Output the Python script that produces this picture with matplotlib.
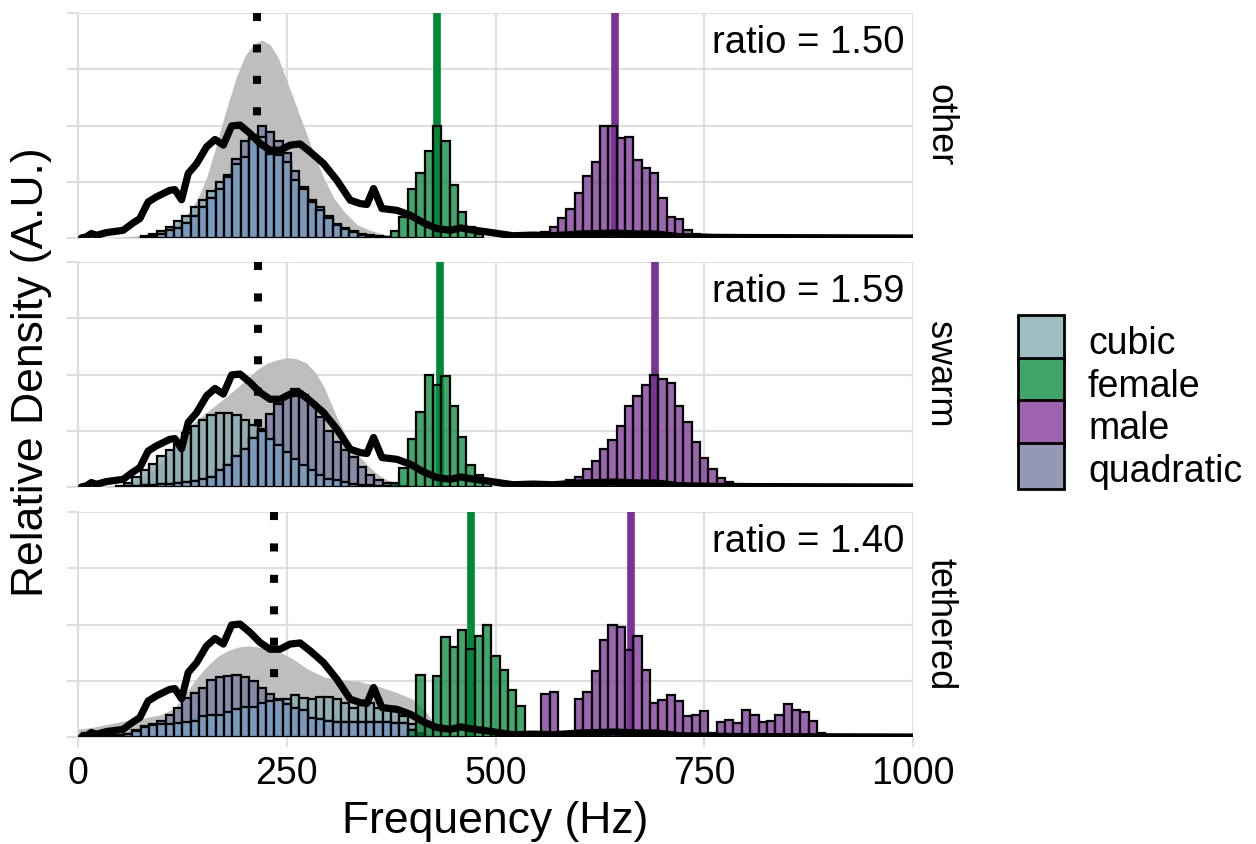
import numpy as np
import matplotlib.pyplot as plt
from matplotlib.patches import Patch, Rectangle
from matplotlib.legend_handler import HandlerPatch

plt.rcParams['font.family'] = ['Liberation Sans', 'DejaVu Sans']

# facets
facets = ['other', 'swarm', 'tethered']
ratio_labels = ['ratio = 1.50', 'ratio = 1.59', 'ratio = 1.40']
ref_line = [214, 216, 235]        # dotted line (Hz)
female_line = [430, 433, 471]
male_line = [643, 691, 662]

# histograms: first bin centre + relative heights (10 Hz bins)
cubic_other_start = 80
cubic_other = [0.007, 0.016, 0.03, 0.05, 0.074, 0.096, 0.137, 0.17, 0.21, 0.247,
               0.27, 0.33, 0.36, 0.44, 0.45, 0.375, 0.37, 0.34, 0.26, 0.22,
               0.17, 0.137, 0.096, 0.063, 0.046, 0.03, 0.02, 0.012, 0.008, 0.005]
quad_other_start = 80
quad_other = [0.004, 0.01, 0.018, 0.035, 0.045, 0.065, 0.10, 0.14, 0.18, 0.22,
              0.28, 0.35, 0.43, 0.46, 0.50, 0.47, 0.43, 0.38, 0.30, 0.225,
              0.16, 0.125, 0.088, 0.06, 0.04, 0.025, 0.015, 0.01, 0.005, 0.003]
female_other_start = 380
female_other = [0.033, 0.093, 0.216, 0.29, 0.387, 0.5, 0.43, 0.237, 0.115, 0.048, 0.018]
male_other_start = 560
male_other = [0.028, 0.05, 0.088, 0.127, 0.2, 0.275, 0.34, 0.5, 0.5, 0.443,
              0.45, 0.346, 0.312, 0.287, 0.178, 0.095, 0.085, 0.036, 0.02, 0.013]

cubic_swarm_start = 50
cubic_swarm = [0.005, 0.02, 0.045, 0.075, 0.104, 0.137, 0.166, 0.19, 0.24, 0.27,
               0.30, 0.32, 0.33, 0.33, 0.32, 0.30, 0.275, 0.25, 0.215, 0.186,
               0.156, 0.126, 0.097, 0.074, 0.052, 0.037, 0.03, 0.022, 0.015, 0.01,
               0.008, 0.005, 0.004, 0.003]
quad_swarm_start = 60
quad_swarm = [0.003, 0.005, 0.008, 0.01, 0.012, 0.015, 0.018, 0.022, 0.028, 0.035,
              0.045, 0.075, 0.10, 0.14, 0.17, 0.22, 0.26, 0.325, 0.37, 0.40,
              0.434, 0.41, 0.375, 0.31, 0.25, 0.2, 0.165, 0.135, 0.09, 0.052,
              0.033, 0.02, 0.012, 0.006]
female_swarm_start = 380
female_swarm = [0.018, 0.084, 0.215, 0.335, 0.5, 0.453, 0.493, 0.361, 0.221, 0.1, 0.055, 0.025]
male_swarm_start = 570
male_swarm = [0.01, 0.02, 0.032, 0.043, 0.08, 0.114, 0.17, 0.21, 0.27, 0.361,
              0.406, 0.453, 0.5, 0.482, 0.463, 0.361, 0.29, 0.198, 0.131, 0.081,
              0.04, 0.022, 0.013, 0.008, 0.005]

cubic_tethered_start = 10
cubic_tethered = [0.01, 0.005, 0.005, 0.005, 0.008, 0.012, 0.025, 0.045, 0.052, 0.058,
                  0.06, 0.063, 0.066, 0.07, 0.093, 0.097, 0.1, 0.109, 0.126, 0.132,
                  0.135, 0.15, 0.16, 0.17, 0.17, 0.188, 0.174, 0.17, 0.178, 0.176,
                  0.17, 0.15, 0.13, 0.144, 0.15, 0.13, 0.118, 0.115, 0.093, 0.056, 0.02]
quad_tethered_start = 10
quad_tethered = [0.016, 0.008, 0.008, 0.008, 0.01, 0.015, 0.03, 0.05, 0.056, 0.07,
                 0.097, 0.13, 0.174, 0.196, 0.22, 0.254, 0.265, 0.27, 0.276, 0.265,
                 0.247, 0.22, 0.19, 0.165, 0.147, 0.13, 0.12, 0.085, 0.078, 0.07,
                 0.068, 0.066, 0.067, 0.065, 0.066, 0.067, 0.066, 0.064, 0.063, 0.03, 0.01]
female_tethered_start = 400
female_tethered = [0.03, 0.277, 0.06, 0.27, 0.444, 0.4, 0.476, 0.392, 0.45, 0.5,
                   0.36, 0.3, 0.207, 0.138, 0.02]
male_tethered_start = 560
male_tethered = [0.19, 0.2, 0.0, 0.01, 0.17, 0.2, 0.293, 0.432, 0.5, 0.49,
                 0.388, 0.447, 0.296, 0.15, 0.166, 0.188, 0.16, 0.092, 0.1, 0.114,
                 0.018, 0.067, 0.074, 0.062, 0.121, 0.096, 0.067, 0.071, 0.096, 0.148,
                 0.118, 0.111, 0.071, 0.018]

# grey density area per facet
gray_other_x = [40, 60, 80, 100, 120, 134, 144, 154, 164, 172, 180, 190, 200, 210, 220,
                230, 240, 250, 260, 270, 282, 294, 306, 318, 334, 350, 370, 390, 410]
gray_other_y = [0, 0.005, 0.015, 0.03, 0.07, 0.12, 0.18, 0.27, 0.39, 0.5, 0.6, 0.72, 0.81,
                0.86, 0.88, 0.86, 0.8, 0.7, 0.6, 0.5, 0.38, 0.27, 0.18, 0.12, 0.06, 0.034,
                0.012, 0.004, 0]
gray_swarm_x = [30, 50, 70, 90, 110, 122, 140, 160, 174, 190, 202, 214, 226, 238, 250,
                262, 274, 284, 294, 302, 310, 318, 326, 336, 346, 356, 366, 382, 400]
gray_swarm_y = [0, 0.01, 0.03, 0.075, 0.15, 0.23, 0.29, 0.35, 0.39, 0.44, 0.48, 0.52,
                0.55, 0.565, 0.575, 0.57, 0.55, 0.51, 0.45, 0.38, 0.31, 0.25, 0.19,
                0.14, 0.1, 0.065, 0.04, 0.012, 0]
gray_tethered_x = [0, 20, 40, 60, 80, 100, 116, 130, 144, 156, 168, 180, 192, 204, 216,
                   228, 240, 256, 276, 296, 316, 336, 356, 380, 400, 416, 428, 440, 455, 470]
gray_tethered_y = [0.034, 0.045, 0.06, 0.075, 0.085, 0.1, 0.13, 0.2, 0.27, 0.32, 0.36,
                   0.385, 0.4, 0.405, 0.4, 0.39, 0.38, 0.35, 0.3, 0.265, 0.255, 0.247,
                   0.23, 0.2, 0.17, 0.115, 0.056, 0.025, 0.008, 0]

# black density line (same in every facet)
black_x = [4, 10, 16, 22, 34, 54, 66, 74, 84, 94, 110, 116, 124, 132, 142, 154, 164,
           174, 184, 194, 206, 218, 230, 242, 254, 266, 278, 294, 310, 326, 338, 346,
           354, 364, 382, 398, 414, 430, 446, 458, 470, 490, 521, 545, 569, 601, 641,
           672, 692, 720, 760, 800, 900, 1000]
black_y = [0, 0.005, 0.02, 0.012, 0.024, 0.034, 0.067, 0.086, 0.16, 0.183, 0.212, 0.215,
           0.17, 0.287, 0.33, 0.405, 0.438, 0.413, 0.498, 0.502, 0.465, 0.42, 0.39, 0.39,
           0.413, 0.418, 0.383, 0.331, 0.257, 0.168, 0.153, 0.149, 0.22, 0.131, 0.123,
           0.101, 0.067, 0.042, 0.034, 0.045, 0.037, 0.027, 0.01, 0.013, 0.01, 0.018,
           0.022, 0.018, 0.018, 0.006, 0.003, 0.002, 0.001, 0.0]

cubic_data = [(cubic_other_start, cubic_other), (cubic_swarm_start, cubic_swarm),
              (cubic_tethered_start, cubic_tethered)]
quad_data = [(quad_other_start, quad_other), (quad_swarm_start, quad_swarm),
             (quad_tethered_start, quad_tethered)]
female_data = [(female_other_start, female_other), (female_swarm_start, female_swarm),
               (female_tethered_start, female_tethered)]
male_data = [(male_other_start, male_other), (male_swarm_start, male_swarm),
             (male_tethered_start, male_tethered)]
gray_data = [(gray_other_x, gray_other_y), (gray_swarm_x, gray_swarm_y),
             (gray_tethered_x, gray_tethered_y)]

A = 0.8
cubic_col = (132.5/255, 171/255, 177.5/255, A)
quad_col = (121/255, 126/255, 161/255, A)
overlap_col = (122/255, 159/255, 195/255, A)
green = '#008837'
purple = '#7b3294'
grid_col = '#dedede'


def bins(start, vals):
    centres = start + 10 * np.arange(len(vals))
    return centres, np.asarray(vals, dtype=float)


def draw_bars(ax, x, h, face, z=3):
    keep = h > 0
    ax.bar(x[keep], h[keep], width=10, facecolor=face, edgecolor='black',
           linewidth=1.6, zorder=z)


class FullBox(HandlerPatch):
    # legend key filling the whole handle box
    def create_artists(self, legend, orig_handle, xdescent, ydescent, width,
                       height, fontsize, trans):
        p = Rectangle((-xdescent, -ydescent), width, height + ydescent)
        self.update_prop(p, orig_handle, legend)
        p.set_transform(trans)
        return [p]


W, H = 1256, 844
fig = plt.figure(figsize=(W / 100, H / 100), dpi=100)
panel_tops = [13, 262, 512]

for i, top in enumerate(panel_tops):
    ax = fig.add_axes([78 / W, 1 - (top + 225) / H, 835 / W, 225 / H])
    ax.set_xlim(0, 1000)
    ax.set_ylim(0, 1)
    ax.set_xticks([0, 250, 500, 750, 1000])
    ax.set_yticks([0, 0.25, 0.5, 0.75, 1])
    ax.grid(True, color=grid_col, lw=1.5, zorder=0)
    ax.set_axisbelow(True)
    for s in ['top', 'right', 'bottom']:
        ax.spines[s].set_visible(False)
    ax.spines['left'].set_color(grid_col)
    ax.spines['left'].set_linewidth(1.5)
    ax.tick_params(axis='y', length=8, width=1.5, color=grid_col, labelleft=False)
    if i == 2:
        ax.tick_params(axis='x', length=7, width=1.5, color=grid_col,
                       labelsize=27, pad=7)
    else:
        ax.tick_params(axis='x', length=0, labelbottom=False)

    gx, gy = gray_data[i]
    ax.fill_between(gx, gy, color='#bebebe', lw=0, zorder=1)

    ax.plot([ref_line[i], ref_line[i]], [1, 0], color='black', lw=5.8,
            linestyle=(0, (1, 2.9)), dash_capstyle='butt', zorder=2)
    ax.plot([female_line[i], female_line[i]], [0, 1], color=green, lw=5.5,
            solid_capstyle='butt', zorder=2)
    ax.plot([male_line[i], male_line[i]], [0, 1], color=purple, lw=5.5,
            solid_capstyle='butt', zorder=2)

    # cubic / quadratic on a common bin grid so the overlap can be shaded
    cx, ch = bins(*cubic_data[i])
    qx, qh = bins(*quad_data[i])
    lo = min(cx[0], qx[0])
    hi = max(cx[-1], qx[-1])
    grid_x = np.arange(lo, hi + 10, 10)
    c_full = np.zeros(len(grid_x))
    q_full = np.zeros(len(grid_x))
    c_full[((cx - lo) // 10).astype(int)] = ch
    q_full[((qx - lo) // 10).astype(int)] = qh
    draw_bars(ax, grid_x, c_full, cubic_col)
    draw_bars(ax, grid_x, q_full, quad_col)
    draw_bars(ax, grid_x, np.minimum(c_full, q_full), overlap_col)

    fx, fh = bins(*female_data[i])
    draw_bars(ax, fx, fh, (0, 0x88/255, 0x37/255, 0.75))
    mx, mh = bins(*male_data[i])
    draw_bars(ax, mx, mh, (0x7b/255, 0x32/255, 0x94/255, 0.75))

    ax.plot(black_x, black_y, color='black', lw=5.2, solid_joinstyle='round',
            solid_capstyle='round', zorder=5)

    ax.text(0.99, 0.868, ratio_labels[i], transform=ax.transAxes, ha='right',
            va='center', fontsize=27.5, zorder=6)
    ax.text(1.032, 0.5, facets[i], transform=ax.transAxes, rotation=270,
            ha='center', va='center', fontsize=26)

fig.text(495.5 / W, 1 - 822 / H, 'Frequency (Hz)', ha='center', va='center', fontsize=32)
fig.text(32 / W, 1 - 372 / H, 'Relative Density (A.U.)', ha='center', va='center',
         rotation=90, fontsize=32)

handles = [Patch(facecolor='#9ebdc1', edgecolor='black', lw=2, label='cubic'),
           Patch(facecolor='#41a468', edgecolor='black', lw=2, label='female'),
           Patch(facecolor='#9c64ae', edgecolor='black', lw=2, label='male'),
           Patch(facecolor='#9498b4', edgecolor='black', lw=2, label='quadratic')]
fs_px = 27 * 100 / 72
fig.legend(handles=handles, loc='center left', bbox_to_anchor=(1018 / W, 1 - 406 / H),
           frameon=False, fontsize=27, handlelength=46 / fs_px, handleheight=46 / fs_px,
           labelspacing=2.5 / fs_px, handletextpad=24 / fs_px, borderpad=0,
           borderaxespad=0, handler_map={Patch: FullBox()})

fig.savefig('out.png', dpi=100)
